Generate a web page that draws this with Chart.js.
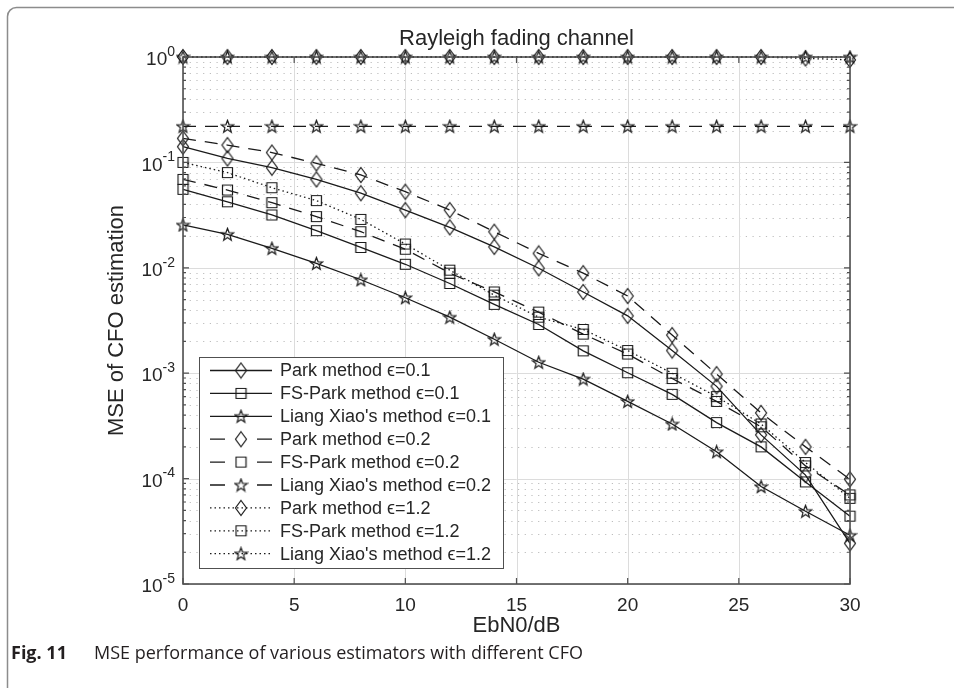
<!DOCTYPE html>
<html>
<head>
<meta charset="utf-8">
<script src="https://cdn.jsdelivr.net/npm/chart.js@4.4.1/dist/chart.umd.min.js"></script>
<style>
  html, body { margin: 0; padding: 0; background: #fff; }
  #wrap { width: 954px; height: 688px; position: relative; }
</style>
</head>
<body>
<div id="wrap"><canvas id="chart" width="954" height="688"></canvas></div>
<script>
// EbN0 (dB) sample points
const snr = [0, 2, 4, 6, 8, 10, 12, 14, 16, 18, 20, 22, 24, 26, 28, 30];

// MSE values
const parkE01   = [0.141, 0.109, 0.089, 0.069, 0.051, 0.0353, 0.0242, 0.0158, 0.0099, 0.0059, 0.0035, 0.00164, 0.00075, 0.00026, 0.000108, 0.0000243];
const fsParkE01 = [0.0555, 0.0423, 0.0317, 0.0225, 0.0156, 0.0108, 0.0071, 0.0045, 0.0029, 0.00163, 0.00101, 0.00063, 0.00034, 0.0002, 0.000093, 0.000044];
const liangE01  = [0.0255, 0.0208, 0.0153, 0.011, 0.0077, 0.0052, 0.0034, 0.0021, 0.00127, 0.00088, 0.00054, 0.00033, 0.00018, 0.000084, 0.000049, 0.000029];
const parkE02   = [0.169, 0.146, 0.124, 0.098, 0.076, 0.0527, 0.0353, 0.022, 0.0137, 0.0089, 0.0054, 0.0023, 0.00098, 0.00042, 0.0002, 0.0000985];
const fsParkE02 = [0.069, 0.0547, 0.0415, 0.0306, 0.022, 0.015, 0.0089, 0.0059, 0.0038, 0.00235, 0.00152, 0.00089, 0.00054, 0.00031, 0.000132, 0.00007];
const liangE02  = [0.22, 0.22, 0.22, 0.22, 0.22, 0.22, 0.22, 0.22, 0.22, 0.22, 0.22, 0.22, 0.22, 0.22, 0.22, 0.22];
const parkE12   = [1, 1, 1, 1, 1, 1, 1, 1, 1, 1, 1, 1, 1, 1, 0.97, 0.94];
const fsParkE12 = [0.1, 0.08, 0.0575, 0.0434, 0.0288, 0.0168, 0.0095, 0.0055, 0.0034, 0.0026, 0.00164, 0.001, 0.0006, 0.00033, 0.000142, 0.000065];
const liangE12  = [1, 1, 1, 1, 1, 1, 1, 1, 1, 1, 1, 1, 1, 1, 1, 1];

const seriesNames = [
  'Park method ϵ=0.1', 'FS-Park method ϵ=0.1', "Liang Xiao's method ϵ=0.1",
  'Park method ϵ=0.2', 'FS-Park method ϵ=0.2', "Liang Xiao's method ϵ=0.2",
  'Park method ϵ=1.2', 'FS-Park method ϵ=1.2', "Liang Xiao's method ϵ=1.2"
];
const seriesValues = [parkE01, fsParkE01, liangE01, parkE02, fsParkE02, liangE02, parkE12, fsParkE12, liangE12];

// axis ticks
const xTicks = [0, 5, 10, 15, 20, 25, 30];
const yExponents = [0, -1, -2, -3, -4, -5];

const INK = '#1a1a1a';
const TEXT = '#262626';
const FONT = '"Liberation Sans", Arial, sans-serif';

// hollow MATLAB-like markers drawn on small canvases
function makeMarker(kind) {
  const c = document.createElement('canvas');
  let w = 13, h = 13;
  if (kind === 'diamond') { w = 14; h = 18; }
  if (kind === 'star') { w = 15; h = 15; }
  c.width = w; c.height = h;
  const g = c.getContext('2d');
  g.strokeStyle = INK;
  g.lineWidth = 1.2;
  g.beginPath();
  if (kind === 'diamond') {
    g.moveTo(w / 2, 1.5); g.lineTo(w - 1.5, h / 2); g.lineTo(w / 2, h - 1.5); g.lineTo(1.5, h / 2);
    g.closePath();
  } else if (kind === 'square') {
    g.rect(1.5, 1.5, w - 3, h - 3);
  } else {
    const cx = w / 2, cy = h / 2 + 0.5, ro = 6.5, ri = 2.7;
    for (let i = 0; i < 10; i++) {
      const r = i % 2 === 0 ? ro : ri;
      const a = -Math.PI / 2 + i * Math.PI / 5;
      const px = cx + r * Math.cos(a), py = cy + r * Math.sin(a);
      if (i === 0) g.moveTo(px, py); else g.lineTo(px, py);
    }
    g.closePath();
  }
  g.stroke();
  return c;
}

const markers = [makeMarker('diamond'), makeMarker('square'), makeMarker('star')];
const dashes = [[], [13, 9], [1.5, 3]];

const datasets = seriesValues.map((vals, i) => ({
  label: seriesNames[i],
  data: snr.map((x, j) => ({ x: x, y: vals[j] })),
  borderColor: INK,
  borderWidth: 1.3,
  borderDash: dashes[Math.floor(i / 3)],
  pointStyle: markers[i % 3],
  pointRadius: 6,
  backgroundColor: 'transparent',
  fill: false,
  tension: 0,
  clip: false
}));

// grid, box, tick marks, labels, legend and caption in MATLAB style
const matlabLook = {
  id: 'matlabLook',
  beforeDatasetsDraw(chart) {
    const ctx = chart.ctx;
    const a = chart.chartArea;
    const xs = chart.scales.x, ys = chart.scales.y;
    ctx.save();
    ctx.lineWidth = 1;
    // minor grid (dotted)
    ctx.strokeStyle = '#bdbdbd';
    ctx.setLineDash([1.2, 5.5]);
    for (let k = -5; k < 0; k++) {
      for (let m = 2; m <= 9; m++) {
        const y = Math.round(ys.getPixelForValue(m * Math.pow(10, k))) + 0.5;
        ctx.beginPath(); ctx.moveTo(a.left, y); ctx.lineTo(a.right, y); ctx.stroke();
      }
    }
    // major grid
    ctx.setLineDash([]);
    ctx.strokeStyle = '#dcdcdc';
    yExponents.forEach(k => {
      const y = Math.round(ys.getPixelForValue(Math.pow(10, k))) + 0.5;
      ctx.beginPath(); ctx.moveTo(a.left, y); ctx.lineTo(a.right, y); ctx.stroke();
    });
    xTicks.forEach(v => {
      const x = Math.round(xs.getPixelForValue(v)) + 0.5;
      ctx.beginPath(); ctx.moveTo(x, a.top); ctx.lineTo(x, a.bottom); ctx.stroke();
    });
    ctx.restore();
  },
  afterDatasetsDraw(chart) {
    const ctx = chart.ctx;
    const a = chart.chartArea;
    const xs = chart.scales.x, ys = chart.scales.y;
    ctx.save();

    // axes box
    ctx.strokeStyle = '#505050';
    ctx.lineWidth = 1.6;
    ctx.strokeRect(a.left, a.top, a.right - a.left, a.bottom - a.top);

    // tick marks (inward)
    ctx.lineWidth = 1.2;
    ctx.beginPath();
    xTicks.forEach(v => {
      const x = xs.getPixelForValue(v);
      ctx.moveTo(x, a.bottom); ctx.lineTo(x, a.bottom - 6);
      ctx.moveTo(x, a.top); ctx.lineTo(x, a.top + 6);
    });
    for (let k = -5; k <= 0; k++) {
      const y = ys.getPixelForValue(Math.pow(10, k));
      ctx.moveTo(a.left, y); ctx.lineTo(a.left + 6, y);
      ctx.moveTo(a.right, y); ctx.lineTo(a.right - 6, y);
      if (k < 0) {
        for (let m = 2; m <= 9; m++) {
          const ym = ys.getPixelForValue(m * Math.pow(10, k));
          ctx.moveTo(a.left, ym); ctx.lineTo(a.left + 3, ym);
          ctx.moveTo(a.right, ym); ctx.lineTo(a.right - 3, ym);
        }
      }
    }
    ctx.stroke();

    // y tick labels 10^k
    ctx.fillStyle = TEXT;
    ctx.textBaseline = 'middle';
    ctx.textAlign = 'left';
    yExponents.forEach(k => {
      const y = ys.getPixelForValue(Math.pow(10, k));
      const exp = String(k);
      ctx.font = '14px ' + FONT;
      const w2 = ctx.measureText(exp).width;
      ctx.font = '19px ' + FONT;
      const w1 = ctx.measureText('10').width;
      const right = a.left - 8;
      ctx.fillText('10', right - w2 - w1, y + 3);
      ctx.font = '14px ' + FONT;
      ctx.fillText(exp, right - w2, y - 5);
    });

    // titles
    ctx.textAlign = 'center';
    ctx.font = '22px ' + FONT;
    ctx.fillText('Rayleigh fading channel', (a.left + a.right) / 2, 39);
    ctx.fillText('EbN0/dB', (a.left + a.right) / 2, 626);
    ctx.save();
    ctx.translate(117, (a.top + a.bottom) / 2);
    ctx.rotate(-Math.PI / 2);
    ctx.fillText('MSE of CFO estimation', 0, 0);
    ctx.restore();

    // legend box
    const lx = 199, ly = 357, lw = 304, lh = 211, rowH = 22.9;
    ctx.fillStyle = '#fff';
    ctx.fillRect(lx, ly, lw, lh);
    ctx.strokeStyle = '#505050';
    ctx.lineWidth = 1;
    ctx.strokeRect(lx + 0.5, ly + 0.5, lw, lh);
    chart.data.datasets.forEach((ds, i) => {
      const cy = ly + 13.5 + i * rowH;
      ctx.strokeStyle = INK;
      ctx.lineWidth = 1.3;
      const d = ds.borderDash;
      ctx.setLineDash(d.length && d[0] > 5 ? [15, 32] : d);
      ctx.beginPath(); ctx.moveTo(210, cy); ctx.lineTo(272, cy); ctx.stroke();
      ctx.setLineDash([]);
      const img = ds.pointStyle;
      ctx.drawImage(img, 241 - img.width / 2, cy - img.height / 2);
      ctx.fillStyle = TEXT;
      ctx.font = '18px ' + FONT;
      ctx.textAlign = 'left';
      ctx.fillText(ds.label, 280, cy + 1);
    });

    // figure frame and caption
    ctx.strokeStyle = '#8c8c8c';
    ctx.lineWidth = 1.5;
    ctx.beginPath();
    ctx.moveTo(7.5, 700);
    ctx.lineTo(7.5, 17);
    ctx.arcTo(7.5, 7.5, 17, 7.5, 9);
    ctx.lineTo(960, 7.5);
    ctx.stroke();

    ctx.fillStyle = '#231f20';
    ctx.textAlign = 'left';
    ctx.font = 'bold 18px "Open Sans", sans-serif';
    ctx.fillText('Fig. 11', 11, 654);
    ctx.font = '18px "Open Sans", sans-serif';
    ctx.fillText('MSE performance of various estimators with different CFO', 94, 654);

    ctx.restore();
  }
};

new Chart(document.getElementById('chart'), {
  type: 'line',
  data: { datasets: datasets },
  options: {
    responsive: false,
    animation: false,
    devicePixelRatio: 1,
    layout: { padding: { top: 57, right: 104, left: 0, bottom: 0 } },
    plugins: { legend: { display: false }, title: { display: false }, tooltip: { enabled: false } },
    scales: {
      x: {
        type: 'linear',
        min: 0,
        max: 30,
        afterBuildTicks: s => { s.ticks = xTicks.map(v => ({ value: v })); },
        afterFit: s => { s.height = 104; },
        grid: { display: false, drawTicks: false },
        border: { display: false },
        ticks: { color: TEXT, font: { family: FONT, size: 19 }, padding: 10, maxRotation: 0 }
      },
      y: {
        type: 'logarithmic',
        min: 1e-5,
        max: 1,
        afterFit: s => { s.width = 183; },
        grid: { display: false, drawTicks: false },
        border: { display: false },
        ticks: { display: false }
      }
    }
  },
  plugins: [matlabLook]
});
</script>
</body>
</html>
